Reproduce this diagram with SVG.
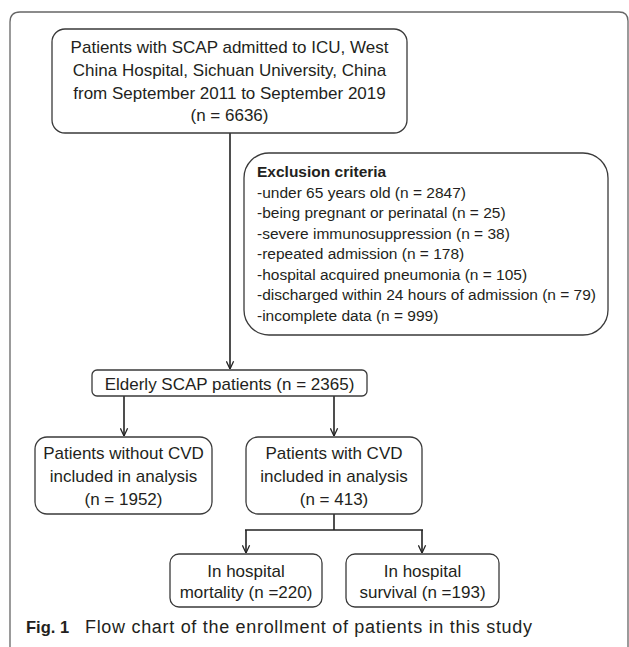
<svg xmlns="http://www.w3.org/2000/svg" width="629" height="647" viewBox="0 0 629 647">
<style>
  .box { fill: #ffffff; stroke: #3a3a3a; stroke-width: 1.3; }
  .t { font-family: "Liberation Sans", Arial, sans-serif; font-size: 17px; fill: #231f20; text-anchor: middle; }
  .ex { font-family: "Liberation Sans", Arial, sans-serif; font-size: 15.5px; fill: #231f20; }
  .exb { font-weight: bold; }
  .conn { stroke: #222; stroke-width: 1.6; fill: none; }
  .cap { font-family: "Liberation Sans", Arial, sans-serif; fill: #231f20; }
</style>
<defs>
  <marker id="arr" markerUnits="userSpaceOnUse" viewBox="0 0 10 10" refX="9.5" refY="5" markerWidth="9" markerHeight="9" orient="auto">
    <path d="M1,1 L9.5,5 L1,9" fill="none" stroke="#222" stroke-width="1.4"/>
  </marker>
</defs>
<rect width="629" height="647" fill="#ffffff"/>
<path id="frame" d="M10,650 L10,22 Q10,12 20,12 L619,12 Q628,12 628,21 L628,650" fill="none" stroke="#666" stroke-width="1.3"/>

<g id="connectors">
  <line class="conn" x1="230" y1="133" x2="230" y2="369" marker-end="url(#arr)"/>
  <line class="conn" x1="124" y1="396" x2="124" y2="436" marker-end="url(#arr)"/>
  <line class="conn" x1="334" y1="396" x2="334" y2="436" marker-end="url(#arr)"/>
  <line class="conn" x1="334" y1="514" x2="334" y2="530"/>
  <line class="conn" x1="245" y1="530" x2="423" y2="530" stroke-width="2"/>
  <line class="conn" x1="246" y1="530" x2="246" y2="553" marker-end="url(#arr)"/>
  <line class="conn" x1="422" y1="530" x2="422" y2="553" marker-end="url(#arr)"/>
</g>

<g id="n_start">
  <rect class="box" x="52" y="29" width="355" height="104" rx="13"/>
  <text class="t" x="229.5" y="53">Patients with SCAP admitted to ICU, West</text>
  <text class="t" x="229.5" y="76">China Hospital, Sichuan University, China</text>
  <text class="t" x="229.5" y="99">from September 2011 to September 2019</text>
  <text class="t" x="229.5" y="121">(n = 6636)</text>
</g>

<g id="n_exclusion">
  <rect class="box" x="244" y="153" width="364" height="182" rx="25"/>
  <text class="ex exb" x="257" y="177">Exclusion criteria</text>
  <text class="ex" x="257" y="197.5">-under 65 years old (n = 2847)</text>
  <text class="ex" x="257" y="218">-being pregnant or perinatal (n = 25)</text>
  <text class="ex" x="257" y="238.5">-severe immunosuppression (n = 38)</text>
  <text class="ex" x="257" y="259">-repeated admission (n = 178)</text>
  <text class="ex" x="257" y="279.5">-hospital acquired pneumonia (n = 105)</text>
  <text class="ex" x="257" y="300">-discharged within 24 hours of admission (n = 79)</text>
  <text class="ex" x="257" y="320.5">-incomplete data (n = 999)</text>
</g>

<g id="n_elderly">
  <rect class="box" x="92" y="370" width="275" height="26" rx="5"/>
  <text class="t" x="229.5" y="389.5">Elderly SCAP patients (n = 2365)</text>
</g>

<g id="n_without">
  <rect class="box" x="35" y="437" width="177" height="77" rx="12"/>
  <text class="t" x="123.5" y="458.5">Patients without CVD</text>
  <text class="t" x="123.5" y="482">included in analysis</text>
  <text class="t" x="123.5" y="505">(n = 1952)</text>
</g>

<g id="n_with">
  <rect class="box" x="246" y="437" width="176" height="77" rx="12"/>
  <text class="t" x="334" y="458.5">Patients with CVD</text>
  <text class="t" x="334" y="482">included in analysis</text>
  <text class="t" x="334" y="505">(n = 413)</text>
</g>

<g id="n_mortality">
  <rect class="box" x="170" y="554" width="152" height="53" rx="9"/>
  <text class="t" x="246" y="577">In hospital</text>
  <text class="t" x="246" y="597.5">mortality (n =220)</text>
</g>

<g id="n_survival">
  <rect class="box" x="346" y="554" width="153" height="53" rx="9"/>
  <text class="t" x="422.5" y="577">In hospital</text>
  <text class="t" x="422.5" y="597.5">survival (n =193)</text>
</g>

<g id="caption">
  <text class="cap" x="26" y="633" font-size="16.5" font-weight="bold">Fig. 1</text>
  <text class="cap" x="85" y="633" font-size="18" textLength="447">Flow chart of the enrollment of patients in this study</text>
</g>
</svg>
